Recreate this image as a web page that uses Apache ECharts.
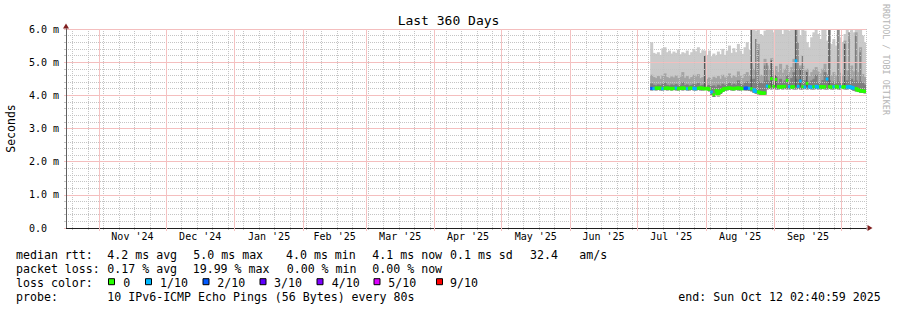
<!DOCTYPE html>
<html>
<head>
<meta charset="utf-8">
<title>Last 360 Days</title>
<script src="https://cdn.jsdelivr.net/npm/echarts@6.0.0/dist/echarts.min.js"></script>
<style>
html,body{margin:0;padding:0;background:#ffffff;}
#chart{width:897px;height:310px;}
</style>
</head>
<body>
<div id="chart"></div>
<script>
// ================= DATA =================
const rangeStart = '2024-10-17T02:40:59Z';
const rangeEnd   = '2025-10-12T02:40:59Z';
const firstDay   = '2025-07-07T00:00:00Z';   // first daily sample
const firstSunday = '2024-10-20T00:00:00Z';  // weekly grid anchor

const monthStarts = ['2024-11-01','2024-12-01','2025-01-01','2025-02-01','2025-03-01','2025-04-01',
                     '2025-05-01','2025-06-01','2025-07-01','2025-08-01','2025-09-01','2025-10-01'];
const monthLabels = ["Nov '24","Dec '24","Jan '25","Feb '25","Mar '25","Apr '25",
                     "May '25","Jun '25","Jul '25","Aug '25","Sep '25"];
const yTickLabels = ['0.0','1.0 m','2.0 m','3.0 m','4.0 m','5.0 m','6.0 m'];

// ping values in ms, one per day from 2025-07-07 to 2025-10-11
const lowPing = [
 4.15,4.16,4.15,4.16,4.15,4.15,4.16,4.15,4.16,4.15,
 4.16,4.15,4.15,4.16,4.15,4.16,4.15,4.15,4.16,4.15,
 4.15,4.16,4.15,4.15,4.16,4.15,4.12,4.00,3.95,4.05,
 3.97,4.04,4.10,4.14,4.15,4.16,4.15,4.15,4.16,4.15,
 4.15,4.16,4.15,4.15,4.14,4.12,4.08,4.05,4.03,4.02,
 4.00,4.02,4.18,4.19,4.18,4.19,4.18,4.18,4.19,4.18,
 4.19,4.18,4.18,4.19,4.18,4.18,4.19,4.18,4.18,4.19,
 4.18,4.19,4.18,4.18,4.19,4.18,4.18,4.19,4.18,4.18,
 4.19,4.18,4.18,4.19,4.18,4.18,4.19,4.18,4.18,4.19,
 4.16,4.14,4.12,4.10,4.08,4.07,4.06];
const medianRtt = [
 4.21,4.20,4.22,4.21,4.22,4.20,4.21,4.22,4.21,4.20,
 4.21,4.22,4.20,4.21,4.22,4.21,4.20,4.21,4.22,4.21,
 4.20,4.21,4.22,4.21,4.20,4.21,4.19,4.10,4.02,4.14,
 4.05,4.12,4.16,4.20,4.21,4.22,4.21,4.20,4.21,4.22,
 4.21,4.20,4.21,4.22,4.21,4.20,4.16,4.12,4.10,4.08,
 4.06,4.07,4.28,4.26,4.50,4.27,4.48,4.26,4.25,4.26,
 4.27,4.45,4.26,4.25,4.26,5.04,4.27,4.43,4.26,4.25,
 4.36,4.26,4.25,4.26,4.27,4.25,4.26,4.25,4.26,4.49,
 4.26,4.25,4.26,4.27,4.25,4.26,4.25,4.26,4.25,4.26,
 4.24,4.22,4.20,4.16,4.14,4.13,4.12];
const ping7 = [
 4.36,4.32,4.30,4.33,4.31,4.35,4.38,4.32,4.30,4.33,
 4.31,4.34,4.30,4.32,4.40,4.31,4.33,4.30,4.32,4.35,
 4.33,4.37,4.30,4.32,4.34,4.30,4.31,4.28,4.30,4.26,
 4.32,4.29,4.35,4.31,4.33,4.38,4.31,4.35,4.32,4.45,
 4.34,4.31,4.38,4.42,4.36,4.48,4.50,4.40,4.42,4.38,
 4.36,4.44,4.45,4.42,4.58,4.40,4.55,4.38,4.50,4.40,
 4.45,4.60,4.40,4.52,4.70,4.50,4.48,4.48,4.45,4.45,
 4.42,4.38,4.45,4.50,4.62,4.40,4.38,4.46,4.70,4.55,
 4.45,4.38,4.42,4.36,4.42,4.40,4.38,4.40,4.45,4.40,
 4.50,4.42,4.45,4.40,4.42,4.38,4.32];
const ping8 = [
 4.62,4.55,4.52,4.58,4.50,4.60,4.66,4.55,4.52,4.57,
 4.54,4.60,4.52,4.56,4.70,4.53,4.58,4.50,4.55,4.62,
 4.57,4.64,4.52,4.55,4.60,4.50,4.54,4.48,4.56,4.52,
 4.58,4.50,4.62,4.54,4.57,4.66,4.53,4.60,4.55,4.72,
 4.58,4.52,4.64,4.70,4.60,5.00,4.80,4.70,5.55,4.62,
 4.58,5.10,4.90,4.78,5.12,4.75,4.88,4.70,4.95,4.68,
 4.80,4.92,4.70,4.85,5.10,6.30,4.80,4.90,4.90,4.75,
 4.80,4.58,4.70,4.78,4.85,4.72,4.66,4.80,4.95,4.64,
 6.30,4.60,4.70,4.58,6.35,4.68,4.62,5.65,4.75,4.66,
 4.90,4.72,5.90,4.70,5.45,4.64,4.55];
const ping9 = [
 5.60,5.28,5.25,5.30,5.22,5.42,5.45,5.30,5.35,5.26,
 5.32,5.28,5.38,5.24,5.30,5.27,5.35,5.22,5.30,5.40,
 5.33,5.45,5.28,5.36,5.35,5.22,5.35,5.18,5.26,5.20,
 5.32,5.24,5.40,5.22,5.35,5.50,5.28,5.42,5.30,5.55,
 5.35,5.25,5.45,5.60,5.38,6.30,6.20,5.95,6.10,5.85,
 5.80,5.95,6.20,6.05,6.30,5.90,6.10,6.00,6.20,5.85,
 6.05,6.30,5.95,6.10,6.40,6.40,6.00,5.80,6.20,5.95,
 5.60,5.45,5.75,5.90,6.10,5.85,5.70,6.00,6.20,5.65,
 6.40,5.55,5.70,5.50,6.40,5.75,5.60,5.85,6.05,5.70,
 6.20,5.90,6.10,6.00,6.10,5.80,5.60];
// short-lived peaks of the inner pings (thin smoke lines)
const peak7Dates  = ['2025-08-23','2025-08-24','2025-08-27','2025-08-28','2025-09-11',
                     '2025-09-13','2025-09-29','2025-10-04','2025-10-07','2025-10-09'];
const peak7Values = [5.70, 5.40, 4.90, 5.00, 5.60, 5.20, 6.30, 5.90, 5.80, 5.30];
const peak6Dates  = ['2025-07-31','2025-08-21','2025-08-30','2025-09-01','2025-09-10',
                     '2025-09-12','2025-09-15','2025-09-25','2025-10-02'];
const peak6Values = [5.20, 6.30, 5.05, 4.60, 6.30, 4.80, 4.70, 6.30, 5.55];
// loss colour index per day (0 = no loss, 1 = 1/10, 2 = 2/10)
const lossLevel = [
 2,1,0,0,0,1,0,0,0,0,
 0,1,0,0,0,0,1,0,0,1,
 1,0,0,0,0,0,0,1,0,0,
 0,0,0,0,0,0,0,0,0,0,
 0,0,2,2,1,0,1,1,0,0,
 0,0,1,0,0,0,0,0,0,0,
 0,0,1,0,0,1,1,1,0,1,
 0,1,1,0,1,1,0,0,0,1,
 0,0,1,0,0,1,0,0,1,1,
 1,1,0,0,0,0,0];
const lossLabels = ['0','1/10','2/10','3/10','4/10','5/10','9/10'];
const lossColors = ['#26ff00','#00b8ff','#0059ff','#5e00ff','#7e00ff','#dd00ff','#ff0000'];

const titleText = 'Last 360 Days';
const yName = 'Seconds';
const watermark = 'RRDTOOL / TOBI OETIKER';
const rowHeads = ['median rtt:','packet loss:','loss color:','probe:'];
const rttStats = ['4.2 ms avg','5.0 ms max','4.0 ms min','4.1 ms now','0.1 ms sd','32.4','am/s'];
const lossStats = ['0.17 % avg','19.99 % max','0.00 % min','0.00 % now'];
const probeText = '10 IPv6-ICMP Echo Pings (56 Bytes) every 80s';
const endText = 'end: Sun Oct 12 02:40:59 2025';

// ================= LAYOUT / STYLE =================
const DAY = 86400000;
const MONO = '"DejaVu Sans Mono", monospace';
const START = Date.parse(rangeStart), END = Date.parse(rangeEnd);
const FIRST = Date.parse(firstDay);
const days = medianRtt.map((_, i) => FIRST + i * DAY);
const monthTs = monthStarts.map(d => Date.parse(d + 'T00:00:00Z'));
const monthMids = monthLabels.map((_, i) => (monthTs[i] + monthTs[i + 1]) / 2);
const weekTs = [];
for (let t = Date.parse(firstSunday); t < END; t += 7 * DAY) weekTs.push(t);
// minor y grid every 0.2 ms, skipping the major (whole ms) positions
const yMinor = [];
for (let k = 1; k < 30; k++) if (k % 5 !== 0) yMinor.push(Math.round(k * 2) / 10);

const rowY = [254.5, 268.5, 282.5, 296.5];
const rttX = [107.3, 193.3, 286, 372.3, 450, 530, 579.3];
const lossX = [107.3, 192.7, 286.7, 372.3];
const swatchX = [108.5, 145.5, 203, 260, 317, 374, 436.5];
const swatchLabelX = [123.3, 160, 217.3, 274, 331.7, 388.3, 450];

const greys = { p9: '#cacaca', p8: '#a4a4a4', p7: '#7e7e7e', p6: '#585858' };
const MAJOR = '#f4bebe';
const MAJOR_V = '#f4c2c2';
const MINOR = '#c4c4c4';

function bandSeries(name, lows, highs, color, z) {
  return {
    name, type: 'custom', z, silent: true, clip: true,
    xAxisIndex: 0, yAxisIndex: 0,
    encode: { x: 0, y: [1, 2] },
    data: days.map((t, i) => [t, lows[i], highs[i]]),
    renderItem: (params, api) => {
      const t = api.value(0);
      const a = api.coord([t, api.value(2)]);
      const b = api.coord([t + DAY, api.value(1)]);
      return { type: 'rect', shape: { x: a[0], y: a[1], width: b[0] - a[0] + 0.8, height: b[1] - a[1] },
               style: { fill: color } };
    }
  };
}
function peakSeries(name, dates, values, color, z) {
  return {
    name, type: 'custom', z, silent: true, clip: true,
    xAxisIndex: 0, yAxisIndex: 0,
    encode: { x: 0, y: [1, 2] },
    data: dates.map((d, k) => {
      const t = Date.parse(d + 'T00:00:00Z');
      const idx = Math.round((t - FIRST) / DAY);
      return [t, lowPing[idx] + 0.08, values[k]];
    }),
    renderItem: (params, api) => {
      const t = api.value(0);
      const a = api.coord([t + DAY / 2, api.value(2)]);
      const b = api.coord([t + DAY / 2, api.value(1)]);
      return { type: 'rect', shape: { x: a[0] - 0.7, y: a[1], width: 1.4, height: b[1] - a[1] },
               style: { fill: color } };
    }
  };
}
const hidden = { axisLine: { show: false }, axisTick: { show: false }, axisLabel: { show: false } };

const option = {
  animation: false,
  backgroundColor: '#ffffff',
  title: {
    text: titleText, left: 'center', top: 9,
    textStyle: { fontFamily: MONO, fontSize: 13, fontWeight: 'normal', color: '#000' }
  },
  grid: { left: 66, right: 31, top: 29, bottom: 82, containLabel: false, outerBoundsMode: 'none' },
  xAxis: [
    {
      type: 'value', min: START, max: END, position: 'bottom', z: 8,
      axisLine: { show: true, lineStyle: { color: '#1f1f1f', width: 1 } },
      axisTick: { show: true, customValues: monthTs, length: 3, lineStyle: { color: MAJOR_V } },
      axisLabel: {
        customValues: monthMids, margin: 3, fontFamily: MONO, fontSize: 10, color: '#000',
        formatter: v => {
          let best = 0;
          monthMids.forEach((m, i) => { if (Math.abs(m - v) < Math.abs(monthMids[best] - v)) best = i; });
          return monthLabels[best];
        }
      },
      splitLine: { show: false }
    },
    {
      type: 'value', min: START, max: END, position: 'bottom', offset: 0, z: 3,
      axisLine: { show: true, symbol: ['none', 'triangle'], symbolSize: [6, 5], symbolOffset: [0, 4],
                  lineStyle: { color: '#801f1f', width: 1 } },
      axisTick: { show: true, customValues: weekTs, length: 2, lineStyle: { color: MINOR } },
      axisLabel: { show: false },
      splitLine: { show: true, lineStyle: { color: MINOR, type: [1, 1], width: 1 } }
    }
  ],
  yAxis: [
    {
      type: 'value', min: 0, max: 6, interval: 1, position: 'left', z: 8,
      name: yName, nameLocation: 'middle', nameRotate: 90, nameGap: 49,
      nameTextStyle: { fontFamily: MONO, fontSize: 11.5, color: '#000' },
      axisLine: { show: true, lineStyle: { color: '#606060', width: 1 } },
      axisTick: { show: true, length: 2, lineStyle: { color: MAJOR_V } },
      axisLabel: {
        margin: 7, fontFamily: MONO, fontSize: 10, color: '#000',
        formatter: v => { const i = Math.round(v); return i === 0 ? '{z|' + yTickLabels[0] + '}' : yTickLabels[i]; },
        rich: { z: { fontFamily: MONO, fontSize: 10, color: '#000', padding: [0, 12, 0, 0] } }
      },
      splitLine: { show: false },
      minorSplitLine: { show: false }
    },
    {
      type: 'value', min: 0, max: 6, position: 'left', offset: 0, z: 3,
      axisLine: { show: true, symbol: ['none', 'triangle'], symbolSize: [6, 5], symbolOffset: [0, 3],
                  lineStyle: { color: '#801f1f', width: 1 } },
      axisTick: { show: true, customValues: yMinor, length: 2, lineStyle: { color: MINOR } },
      axisLabel: { show: false },
      splitLine: { show: true, lineStyle: { color: MINOR, type: [1, 1], width: 1 } }
    },
    Object.assign({
      type: 'value', min: 0, max: 6, interval: 1, position: 'left', offset: 0, z: 4,
      splitLine: { show: true, lineStyle: { color: MAJOR, type: 'solid', width: 1 } }
    }, hidden)
  ],
  graphic: [],
  series: [
    bandSeries('p2-p9', lowPing, ping9, greys.p9, 2),
    bandSeries('p3-p8', lowPing, ping8, greys.p8, 2.1),
    bandSeries('p4-p7', lowPing, ping7, greys.p7, 2.2),
    peakSeries('p7 peaks', peak7Dates, peak7Values, greys.p7, 2.3),
    peakSeries('p6 peaks', peak6Dates, peak6Values, greys.p6, 2.4),
    {
      name: 'month grid', type: 'line', data: [], z: 4, silent: true,
      markLine: {
        silent: true, symbol: ['none', 'none'], label: { show: false }, animation: false,
        lineStyle: { color: MAJOR_V, type: 'solid', width: 1 },
        emphasis: { disabled: true },
        data: monthTs.map(t => ({ xAxis: t }))
      }
    },
    {
      name: 'median', type: 'custom', z: 9, silent: true, clip: true,
      encode: { x: 0, y: 1 },
      data: days.map((t, i) => [t, medianRtt[i], lossLevel[i]]),
      renderItem: (params, api) => {
        const i = params.dataIndex;
        const t = api.value(0), v = api.value(1), l = api.value(2);
        const a = api.coord([t, v]);
        const b = api.coord([t + DAY, v]);
        const col = lossColors[l];
        const children = [{ type: 'rect', shape: { x: a[0], y: a[1] - 1.5, width: b[0] - a[0] + 0.4, height: 3 },
                            style: { fill: col } }];
        if (i > 0 && lossLevel[i - 1] === l && Math.abs(medianRtt[i - 1] - v) <= 0.12) {
          const p = api.coord([t, medianRtt[i - 1]]);
          const y0 = Math.min(p[1], a[1]) - 1.5, y1 = Math.max(p[1], a[1]) + 1.5;
          children.push({ type: 'rect', shape: { x: a[0] - 1.5, y: y0, width: 3, height: y1 - y0 }, style: { fill: col } });
        }
        return { type: 'group', children };
      }
    }
  ]
};

// legend / footer text
const font = '11.6px ' + MONO;
const g = option.graphic;
function txt(x, y, s) {
  g.push({ type: 'text', x, y, silent: true, z: 10,
    style: { text: s, font, fill: '#000', align: 'left', verticalAlign: 'middle' } });
}
rowHeads.forEach((h, r) => txt(16, rowY[r], h));
rttStats.forEach((s, k) => txt(rttX[k], rowY[0], s));
lossStats.forEach((s, k) => txt(lossX[k], rowY[1], s));
lossLabels.forEach((s, k) => {
  g.push({ type: 'rect', silent: true, z: 10, shape: { x: swatchX[k], y: rowY[2] - 3.8, width: 6, height: 6 },
           style: { fill: lossColors[k], stroke: '#000', lineWidth: 1 } });
  txt(swatchLabelX[k], rowY[2], s);
});
txt(107.3, rowY[3], probeText);
txt(678.3, rowY[3], endText);
g.push({ type: 'text', x: 886, y: 4, rotation: -Math.PI / 2, silent: true, z: 10,
         style: { text: watermark, font: '8.4px ' + MONO, fill: '#b4b4b4', align: 'left', verticalAlign: 'middle' } });

const chart = echarts.init(document.getElementById('chart'), null, { renderer: 'svg' });
chart.setOption(option);
</script>
</body>
</html>
